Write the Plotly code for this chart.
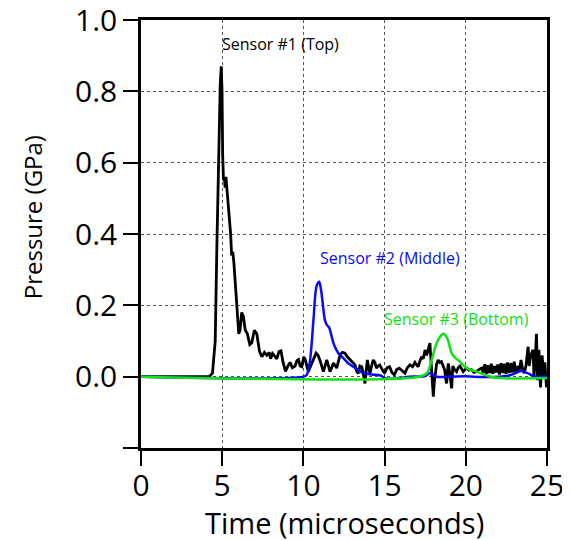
import plotly.graph_objects as go

# Sensor #1 (Top) - black
t_top = [0, 4.2, 4.4, 4.57, 4.67, 4.77, 4.88, 4.94, 4.99, 5.03, 5.08, 5.13, 5.18, 5.23, 5.3,
         5.42, 5.52, 5.58, 5.65, 5.72, 5.82, 5.92, 6.02, 6.1, 6.2, 6.3, 6.42, 6.55, 6.7, 6.82,
         6.98, 7.13, 7.3, 7.44, 7.6, 7.75, 7.9, 7.98, 8.1, 8.2, 8.36, 8.5, 8.62, 8.75, 8.9,
         9.05, 9.18, 9.32, 9.49, 9.6, 9.7, 9.8, 9.9, 10.02, 10.1, 10.3, 10.5, 10.65, 10.78,
         10.9, 11.03, 11.23, 11.44, 11.64, 11.85, 12.05, 12.26, 12.4, 12.56, 12.72, 12.87,
         13.0, 13.18, 13.28, 13.38, 13.48, 13.59, 13.7, 13.79, 13.87, 13.94, 14.02, 14.1,
         14.2, 14.3, 14.4, 14.5, 14.6, 14.7, 14.85, 15.0, 15.15, 15.3, 15.45, 15.6, 15.75,
         15.9, 16.05, 16.25, 16.4, 16.56, 16.72, 16.87, 16.97, 17.07, 17.18, 17.28, 17.38,
         17.49, 17.59, 17.7, 17.79, 17.85, 17.9, 17.95, 18.0, 18.05, 18.1, 18.2, 18.3, 18.4,
         18.5, 18.6, 18.7, 18.76, 18.82, 18.87, 18.92, 18.98, 19.05, 19.13, 19.2, 19.3,
         19.43, 19.53, 19.64, 19.74, 19.84, 19.95, 20.05, 20.2, 20.35, 20.5, 20.66, 20.8,
         20.97, 21.07, 21.17, 21.27, 21.37, 21.47, 21.57, 21.67, 21.77, 21.87, 21.97, 22.07,
         22.17, 22.27, 22.37, 22.47, 22.57, 22.67, 22.77, 22.87, 22.98, 23.08, 23.18, 23.28,
         23.4, 23.5, 23.6, 23.7, 23.84, 23.9, 24.0, 24.14, 24.2, 24.28, 24.35, 24.42, 24.5,
         24.6, 24.7, 24.8, 24.87, 24.97]
p_top = [0, 0, 0.01, 0.10, 0.36, 0.64, 0.82, 0.87, 0.80, 0.62, 0.55, 0.56, 0.53, 0.56, 0.52,
         0.46, 0.40, 0.34, 0.35, 0.32, 0.25, 0.20, 0.12, 0.13, 0.18, 0.17, 0.13, 0.12, 0.09,
         0.095, 0.13, 0.12, 0.07, 0.056, 0.068, 0.06, 0.068, 0.05, 0.065, 0.06, 0.05, 0.07,
         0.072, 0.04, 0.015, 0.03, 0.04, 0.025, 0.03, 0.045, 0.048, 0.03, 0.028, 0.055, 0.05,
         0.014, 0.038, 0.055, 0.066, 0.06, 0.045, 0.014, 0.047, 0.014, 0.038, 0.024, 0.061,
         0.068, 0.066, 0.055, 0.047, 0.04, 0.033, 0.015, 0.009, 0.03, 0.028, 0.005, -0.019,
         0.02, 0.047, 0.025, 0.009, 0.03, 0.047, 0.04, 0.024, 0.03, 0.033, 0.02, 0.01, 0.025,
         0.028, 0.012, 0.005, 0.02, 0.024, 0.018, 0.01, 0.025, 0.033, 0.028, 0.04, 0.033,
         0.028, 0.045, 0.056, 0.05, 0.075, 0.06, 0.08, 0.094, 0.05, 0.0, -0.03, -0.056, -0.02,
         0.0, 0.035, 0.047, 0.04, 0.042, 0.03, 0.019, -0.005, -0.019, 0.01, 0.037, 0.02,
         -0.01, -0.033, 0.03, 0.02, 0.014, 0.025, 0.03, 0.02, 0.014, 0.02, 0.024, 0.018, 0.02,
         0.012, 0.014, 0.02, 0.024, 0.01, 0.035, 0.008, 0.032, 0.01, 0.036, 0.008, 0.03,
         0.012, 0.034, 0.006, 0.038, 0.01, 0.036, 0.008, 0.04, 0.01, 0.038, 0.012, 0.042,
         0.008, 0.03, 0.015, 0.047, 0.02, 0.01, 0.03, 0.084, 0.03, 0.06, 0.075, 0.0, 0.05,
         0.12, -0.01, 0.075, -0.03, 0.06, 0.0, 0.04, -0.03]

# Sensor #2 (Middle) - blue
t_mid = [0, 10.0, 10.2, 10.41, 10.62, 10.82, 10.97, 11.08, 11.19, 11.32, 11.44, 11.58, 11.7,
         11.85, 12.0, 12.15, 12.35, 12.56, 12.8, 13.07, 13.4, 13.69, 14.2, 14.7, 15.1, 15.9,
         16.5, 17.5, 17.8, 18.2, 19.0, 20.0, 21.0, 22.0, 22.8, 23.4, 23.8, 24.3, 25.0]
p_mid = [0, 0, 0.005, 0.047, 0.16, 0.255, 0.266, 0.245, 0.206, 0.16, 0.145, 0.138, 0.12,
         0.094, 0.078, 0.066, 0.057, 0.047, 0.036, 0.028, 0.018, 0.01, 0.006, 0.004, -0.005,
         -0.005, 0.0, 0.002, 0.01, 0.0, 0.0, 0.001, -0.001, 0.0, 0.005, 0.016, 0.01, 0.0, 0.0]

# Sensor #3 (Bottom) - green
t_bot = [0, 17.1, 17.6, 17.9, 18.2, 18.51, 18.66, 18.8, 18.92, 19.03, 19.13, 19.28, 19.43,
         19.64, 20.05, 20.66, 21.5, 22.1, 25.0]
p_bot = [0, 0, 0.01, 0.047, 0.094, 0.117, 0.12, 0.112, 0.1, 0.08, 0.066, 0.056, 0.05,
         0.042, 0.024, 0.014, 0.0, -0.004, -0.004]

x_ticks = [0, 5, 10, 15, 20, 25]
y_ticks = [-0.2, 0.0, 0.2, 0.4, 0.6, 0.8, 1.0]
y_ticklabels = ["", "0.0", "0.2", "0.4", "0.6", "0.8", "1.0"]

BLUE = "#0a0aff"
GREEN = "#11e011"
FONT = "Open Sans"

fig = go.Figure()
fig.add_trace(go.Scatter(x=t_top, y=p_top, mode="lines", line=dict(color="black", width=2.8)))
fig.add_trace(go.Scatter(x=t_mid, y=p_mid, mode="lines", line=dict(color=BLUE, width=2.5, shape="spline")))
fig.add_trace(go.Scatter(x=t_bot, y=p_bot, mode="lines", line=dict(color=GREEN, width=2.5, shape="spline")))

annots = [
    ("Sensor #1 (Top)", 8.57, 0.933, "black"),
    ("Sensor #2 (Middle)", 15.33, 0.333, BLUE),
    ("Sensor #3 (Bottom)", 19.45, 0.162, GREEN),
]
for txt, ax, ay, col in annots:
    fig.add_annotation(x=ax, y=ay, text=txt, showarrow=False,
                       font=dict(family=FONT, size=16, color=col))

# axis titles
fig.add_annotation(xref="paper", yref="paper", x=0.5, y=-0.175, text="Time (microseconds)",
                   showarrow=False, xanchor="center", yanchor="middle",
                   font=dict(family=FONT, size=29, color="black"))
fig.add_annotation(xref="paper", yref="paper", x=-0.2675, y=0.54, text="Pressure (GPa)",
                   showarrow=False, textangle=-90, xanchor="center", yanchor="middle",
                   font=dict(family=FONT, size=24, color="black"))

grid = dict(showgrid=True, gridcolor="#555555", griddash="dot", gridwidth=1)
fig.update_xaxes(range=[0, 25], tickvals=x_ticks, ticks="outside", ticklen=15, tickwidth=2,
                 tickcolor="black", showline=True, linecolor="black", linewidth=2.5,
                 mirror=True, zeroline=False, automargin=False, ticklabeloverflow="allow",
                 ticklabelstandoff=-6,
                 tickfont=dict(family=FONT, size=30, color="black"), **grid)
fig.update_yaxes(range=[-0.2, 1.0], tickvals=y_ticks, ticktext=y_ticklabels, ticks="outside",
                 ticklen=15, tickwidth=2, tickcolor="black", showline=True, linecolor="black",
                 linewidth=2.5, mirror=True, zeroline=False, automargin=False,
                 ticklabeloverflow="allow",
                 tickfont=dict(family=FONT, size=30, color="black"), **grid)

# page body has an 8px margin, so the figure is sized to the visible area
fig.update_layout(width=562, height=532, margin=dict(l=133, r=23, t=12, b=92),
                  plot_bgcolor="white", paper_bgcolor="white", showlegend=False)

fig.write_html("out.html")
